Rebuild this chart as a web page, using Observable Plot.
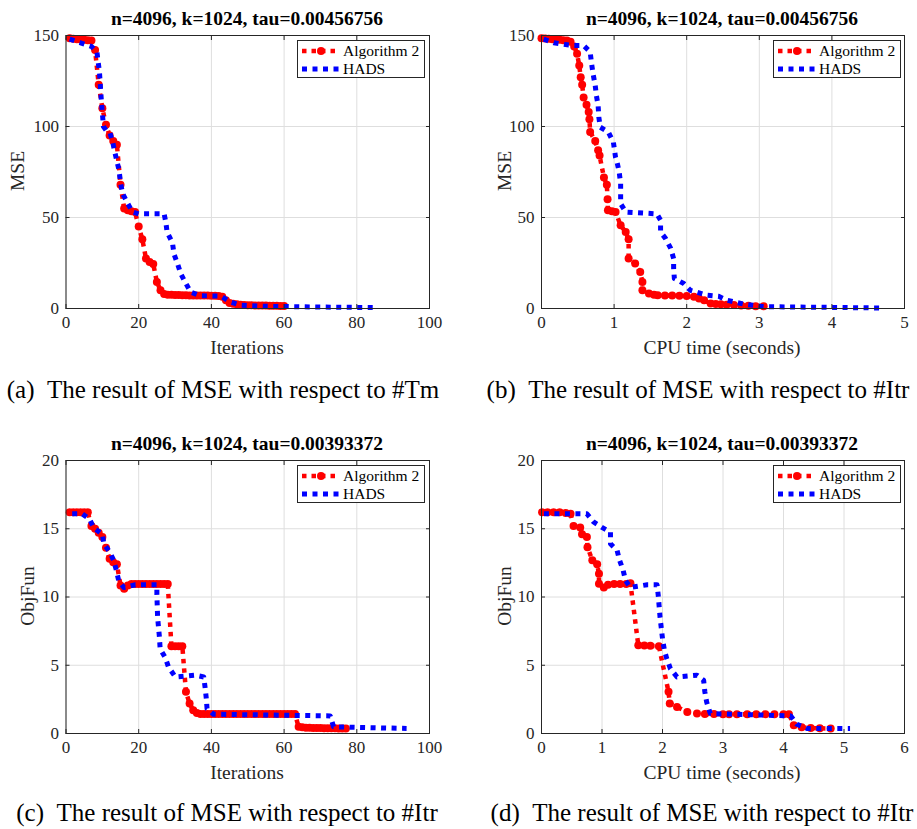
<!DOCTYPE html>
<html><head><meta charset="utf-8">
<script src="https://cdn.jsdelivr.net/npm/d3@7"></script>
<script src="https://cdn.jsdelivr.net/npm/@observablehq/plot@0.6"></script>
<style>
body{margin:0;background:#fff;}
#root{position:relative;width:917px;height:829px;overflow:hidden;font-family:"Liberation Serif","Times New Roman",serif;color:#262626;}
.panel{position:absolute;}
.panel text{font-family:"Liberation Serif","Times New Roman",serif;}
.title{position:absolute;font-weight:bold;font-size:19.5px;line-height:20px;color:#000;white-space:nowrap;transform:translate(-50%,-50%);}
.xlabel{position:absolute;font-size:19.5px;line-height:20px;white-space:nowrap;transform:translate(-50%,-50%);}
.ylabel{position:absolute;font-size:19.5px;line-height:20px;white-space:nowrap;transform:translate(-50%,-50%) rotate(-90deg);}
.caption{position:absolute;font-size:25px;line-height:26px;color:#000;white-space:nowrap;transform:translate(-50%,-50%);}
.legend{position:absolute;border:1px solid #262626;background:#fff;font-size:15.5px;line-height:18px;color:#000;padding:1px 4px 1px 4px;box-sizing:border-box;}
.legend .row{display:flex;align-items:center;height:18px;}
.legend svg{margin-right:3px;}
</style>
</head><body>
<div id="root"></div>
<script>
// ---------- data ----------
const titleTop = "n=4096, k=1024, tau=0.00456756";
const titleBottom = "n=4096, k=1024, tau=0.00393372";
const seriesNames = ["Algorithm 2", "HADS"];
const captions = [
  "(a)\u2002The result of MSE with respect to #Tm",
  "(b)\u2002The result of MSE with respect to #Itr",
  "(c)\u2002The result of MSE with respect to #Itr",
  "(d)\u2002The result of MSE with respect to #Itr"
];
const ticksMSE = [0, 50, 100, 150];
const ticksObj = [0, 5, 10, 15, 20];
const ticksIter = [0, 20, 40, 60, 80, 100];
const ticksTimeB = [0, 1, 2, 3, 4, 5];
const ticksTimeD = [0, 1, 2, 3, 4, 5, 6];

// (a) MSE vs iterations
const algA_mse = [148.5,148.2,148,147.8,147.6,147.4,147.2,142,123,110,101,95,92,90,68,55,54,53.5,53,45,38,27.5,25.5,24.5,14.6,10,8,7.6,
  7.5,7.4,7.4,7.3,7.3,7.2,7.2,7.2,7.1,7.1,7.1,7,7,6.9,
  6.5,4.5,3,2.6,2.3,2.1,1.9,
  1.8,1.8,1.7,1.7,1.6,1.6,1.5,1.5,1.5,1.4,1.4];
const hadsA_iter = [1,4,7,8.5,9.2,9.7,10.3,11,12,12.8,13.3,14,14.6,15,15.6,16.9,18.3,20,27,27.5,27.8,29.3,29.7,30.7,31.6,33,34.3,37,42.6,45.3,48,55,70,85.6];
const hadsA_mse  = [148,146,144,141,130,115,100,98,97,92,87,81,76,69,63,58,53,52,52,47,42,36,30,24.5,19,13.7,9,7,6.8,3.5,1.8,1.2,0.8,0.5];

// (b) MSE vs CPU time
const algB_time = [0,0.05,0.1,0.15,0.2,0.25,0.3,0.35,0.4,0.45,0.49,0.52,0.54,0.56,0.58,0.62,0.65,0.66,0.67,0.74,0.78,0.8,0.86,0.9,0.91,0.915,0.97,1.02,1.09,1.16,1.2,1.2,1.29,1.36,1.39,1.39,1.48,1.55,1.6,1.7,1.8,1.9,2.0,2.1,2.17,2.24,2.33,2.4,2.47,2.55,2.65,2.75,2.85,2.95,3.06];
const algB_mse  = [148.5,148.3,148.2,148,147.8,147.6,147.4,147.2,146.5,144,140,133.5,127,123,116,112,108,104,97,92,87,84,72,68,60,54,53.5,53,45.7,42,38,27.5,24.7,20,14.6,10,8.2,7.5,7.3,7.2,7.1,7,6.8,6.4,5.5,4.5,2.7,2.5,2.4,2.1,1.9,1.7,1.5,1.3,1.2];
const hadsB_time = [0.03,0.17,0.33,0.44,0.58,0.67,0.69,0.71,0.74,0.756,0.78,0.79,0.81,0.92,0.99,1.02,1.04,1.07,1.09,1.09,1.09,1.16,1.59,1.64,1.64,1.71,1.78,1.82,1.82,1.83,1.96,2.05,2.28,2.44,2.56,2.79,3.06,4.67];
const hadsB_mse  = [148,146,145,144.5,144.5,141,134.5,129,122.5,117,111.5,105,99.6,97,91.4,83,80.5,75,68.6,63,57.6,53,52,48.5,42,38.4,33,27.4,22,16.5,13.7,10,7.3,6.7,4.5,2.4,1,0.3];

// (c) ObjFun vs iterations
const algC_obj = [16.2,16.2,16.2,16.2,16.2,16.2,15.2,15.0,14.7,14.4,13.6,12.8,12.55,12.4,10.85,10.6,10.85,
  10.95,10.95,10.95,10.95,10.95,10.95,10.95,10.95,10.95,10.95,10.95,
  6.4,6.4,6.4,6.4,3.05,2.2,1.7,1.5,
  1.42,1.42,1.42,1.42,1.42,1.42,1.42,1.42,1.42,1.42,1.42,1.42,1.42,1.42,1.42,1.42,1.42,1.42,1.42,1.42,1.42,1.42,1.42,1.42,1.42,1.42,1.42,
  0.49,0.45,0.43,0.42,0.41,0.40,0.40,0.39,0.39,0.38,0.38,0.37,0.37,0.37];
const hadsC_iter = [1.7,4.4,6.5,7.6,10,10.4,12,13.1,13.9,14.5,15.9,19.1,25,25,25.2,25.7,25.9,27.3,28.2,30.1,35.6,37.9,38.3,38.6,38.8,40.6,72.7,73.6,93.7];
const hadsC_obj  = [16.1,16.1,15.7,15.07,14.6,13.9,13.3,12.7,11.9,11.2,10.7,10.9,10.9,10.2,8.5,7.07,6.2,5.56,4.87,4.14,4.27,4.14,3.3,2.56,1.83,1.41,1.29,0.49,0.37];

// (d) ObjFun vs CPU time
const algD_time = [0.01,0.1,0.2,0.3,0.4,0.48,0.53,0.64,0.67,0.75,0.76,0.84,0.92,0.95,0.95,1.03,1.1,1.2,1.3,1.4,1.47,1.6,1.7,1.8,1.94,2.1,2.12,2.24,2.41,2.57,2.7,2.85,3.0,3.1,3.23,3.4,3.55,3.7,3.85,4.0,4.09,4.17,4.3,4.45,4.6,4.78];
const algD_obj  = [16.2,16.2,16.2,16.2,16.15,16.1,15.2,15.1,14.6,14.4,13.65,12.7,12.4,11.7,10.97,10.7,10.9,10.95,10.95,10.95,11.0,6.46,6.45,6.42,6.4,3.05,2.2,1.95,1.58,1.46,1.43,1.42,1.41,1.41,1.41,1.41,1.41,1.41,1.41,1.41,1.41,0.61,0.45,0.4,0.38,0.37];
const hadsD_time = [0.04,0.53,0.75,0.86,1.0,1.14,1.14,1.25,1.29,1.35,1.39,1.47,1.75,1.91,1.93,1.96,2.0,2.03,2.07,2.13,2.24,2.57,2.68,2.7,2.73,2.79,4.12,4.22,4.39,5.1];
const hadsD_obj  = [16.1,16.1,16.1,15.5,15.1,14.75,13.9,13.4,12.7,11.95,11.2,10.7,10.9,10.9,10.1,8.5,6.95,6.14,5.49,4.75,4.14,4.27,3.9,3.05,2.3,1.46,1.29,0.68,0.37,0.37];

// ---------- build ----------
const RED = "#ff0000", BLUE = "#0000ff", AX = "#262626";
const SERIF = "Liberation Serif";
const zip = (xs, ys) => xs.map((x, i) => ({x, y: ys[i]}));
const byIndex = ys => ys.map((y, i) => ({x: i + 1, y}));

function makePlot({alg, hads, xDomain, xTicks, yDomain, yTicks, ml, mr, w}) {
  return Plot.plot({
    width: w, height: 365,
    marginLeft: ml, marginRight: mr, marginTop: 35, marginBottom: 57,
    x: {domain: xDomain, nice: false, label: null},
    y: {domain: yDomain, nice: false, label: null},
    style: {fontFamily: SERIF, fontSize: "17px", color: AX, background: "transparent", overflow: "visible"},
    marks: [
      Plot.gridX(xTicks, {stroke: "#dedede", strokeOpacity: 1}),
      Plot.gridY(yTicks, {stroke: "#dedede", strokeOpacity: 1}),
      Plot.line(alg, {x: "x", y: "y", stroke: RED, strokeWidth: 4.5, strokeDasharray: "4.5,5", strokeLinecap: "butt"}),
      Plot.dot(alg, {x: "x", y: "y", r: 4, fill: RED, stroke: null}),
      Plot.line(hads, {x: "x", y: "y", stroke: BLUE, strokeWidth: 5, strokeDasharray: "5,5.5", strokeLinecap: "butt"}),
      Plot.frame({stroke: AX}),
      Plot.axisX(xTicks, {anchor: "bottom", tickSize: -4, tickFormat: () => "", label: null, stroke: AX}),
      Plot.axisX(xTicks, {anchor: "top", tickSize: -4, tickFormat: () => "", label: null, stroke: AX}),
      Plot.axisY(yTicks, {anchor: "left", tickSize: -4, tickFormat: () => "", label: null, stroke: AX}),
      Plot.axisY(yTicks, {anchor: "right", tickSize: -4, tickFormat: () => "", label: null, stroke: AX}),
      Plot.axisX(xTicks, {anchor: "bottom", tickSize: 0, tickPadding: 7, label: null, fontSize: 17, fontFamily: SERIF, fill: AX}),
      Plot.axisY(yTicks, {anchor: "left", tickSize: 0, tickPadding: 7, label: null, fontSize: 17, fontFamily: SERIF, fill: AX})
    ]
  });
}

const root = document.getElementById("root");
function place(el, left, top) {
  el.classList.add("panel");
  el.style.left = left + "px"; el.style.top = top + "px";
  root.appendChild(el);
}
function addText(cls, text, x, y) {
  const d = document.createElement("div");
  d.className = cls; d.textContent = text;
  d.style.left = x + "px"; d.style.top = y + "px";
  root.appendChild(d);
}
function addLegend(left, top) {
  const d = document.createElement("div");
  d.className = "legend";
  d.style.left = left + "px"; d.style.top = top + "px";
  d.style.width = "128px"; d.style.height = "38px";
  d.innerHTML =
    `<div class="row"><svg width="38" height="12"><line x1="0" y1="6" x2="38" y2="6" stroke="${RED}" stroke-width="4.5" stroke-dasharray="4.5,5"/><circle cx="19" cy="6" r="4" fill="${RED}"/></svg><span>${seriesNames[0]}</span></div>` +
    `<div class="row"><svg width="38" height="12"><line x1="0" y1="6" x2="38" y2="6" stroke="${BLUE}" stroke-width="5" stroke-dasharray="5,5.5"/></svg><span>${seriesNames[1]}</span></div>`;
  root.appendChild(d);
}

const L = {w: 440, ml: 65.5, mr: 11};
const R = {w: 441, ml: 65, mr: 13};

place(makePlot({alg: byIndex(algA_mse), hads: zip(hadsA_iter, hadsA_mse), xDomain: [0, 100], xTicks: ticksIter, yDomain: [0, 150], yTicks: ticksMSE, ...L}), 0, 0);
place(makePlot({alg: zip(algB_time, algB_mse), hads: zip(hadsB_time, hadsB_mse), xDomain: [0, 5], xTicks: ticksTimeB, yDomain: [0, 150], yTicks: ticksMSE, ...R}), 476, 0);
place(makePlot({alg: byIndex(algC_obj), hads: zip(hadsC_iter, hadsC_obj), xDomain: [0, 100], xTicks: ticksIter, yDomain: [0, 20], yTicks: ticksObj, ...L}), 0, 425);
place(makePlot({alg: zip(algD_time, algD_obj), hads: zip(hadsD_time, hadsD_obj), xDomain: [0, 6], xTicks: ticksTimeD, yDomain: [0, 20], yTicks: ticksObj, ...R}), 476, 425);

addText("title", titleTop, 247, 19);
addText("title", titleTop, 722, 19);
addText("title", titleBottom, 247, 444);
addText("title", titleBottom, 722, 444);

addText("xlabel", "Iterations", 247, 348);
addText("xlabel", "CPU time (seconds)", 722, 348);
addText("xlabel", "Iterations", 247, 773);
addText("xlabel", "CPU time (seconds)", 722, 773);

addText("ylabel", "MSE", 18, 171);
addText("ylabel", "MSE", 505, 171);
addText("ylabel", "ObjFun", 28, 596);
addText("ylabel", "ObjFun", 505, 596);

addLegend(297, 40);
addLegend(773, 40);
addLegend(297, 465);
addLegend(773, 465);

addText("caption", captions[0], 223, 390);
addText("caption", captions[1], 698, 390);
addText("caption", captions[2], 227, 813);
addText("caption", captions[3], 702, 813);
</script>
</body></html>
